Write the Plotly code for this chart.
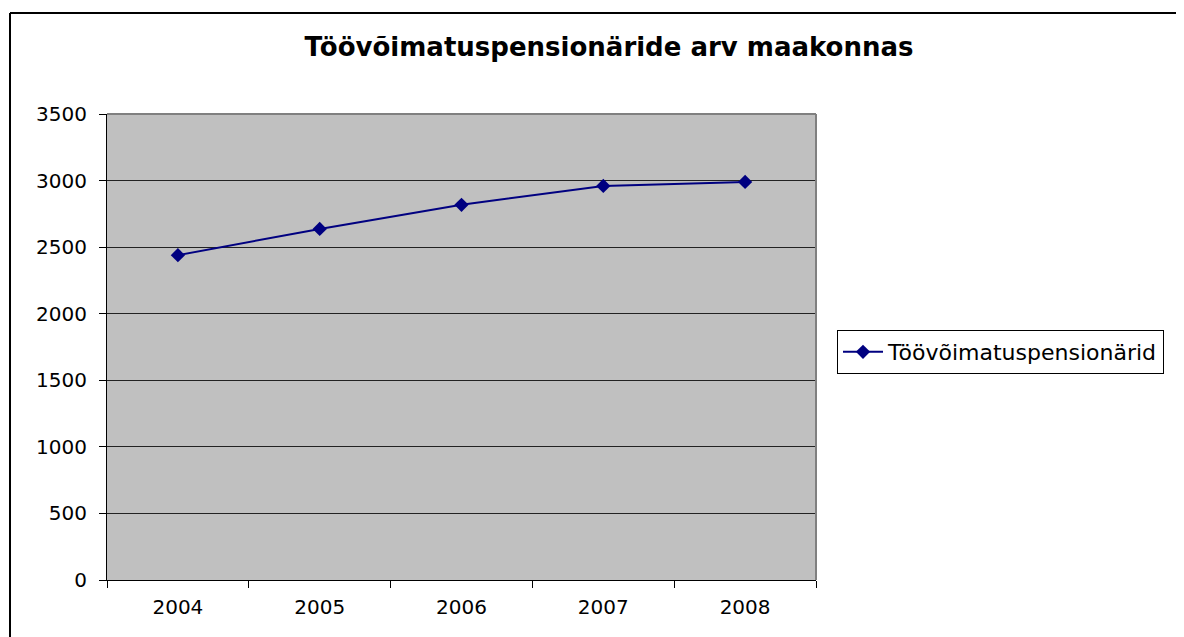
import plotly.graph_objects as go

years = ["2004", "2005", "2006", "2007", "2008"]
values = [2440, 2637, 2818, 2960, 2990]
series_name = "Töövõimatuspensionärid"
title_text = "Töövõimatuspensionäride arv maakonnas"

# page body has an 8px margin; work in screen pixels and shift
OFF = 8
W, H = 1184 - OFF, 637 - OFF
L, R, T, B = 107 - OFF, 816 - OFF, 114 - OFF, 580 - OFF

def px_x(p):
    return (p - OFF - L) / (R - L)

def px_y(p):
    return (B - (p - OFF)) / (B - T)

FONT = "DejaVu Sans, Liberation Sans, Arial, sans-serif"

fig = go.Figure()
fig.add_trace(go.Scatter(
    x=years, y=values, name=series_name, mode="lines+markers",
    line=dict(color="#000080", width=2),
    marker=dict(symbol="diamond", size=11, color="#000080"),
))

fig.update_layout(
    width=W, height=H,
    margin=dict(l=L, r=W - R, t=T, b=H - B),
    paper_bgcolor="white",
    plot_bgcolor="#C0C0C0",
    font=dict(family=FONT, color="black", size=20),
    title=dict(text="<b>" + title_text + "</b>", x=px_x(609), xref="paper",
               xanchor="center", y=1 - (47 - OFF) / H, yanchor="middle",
               font=dict(size=26, family=FONT)),
    showlegend=True,
    legend=dict(x=px_x(837), xanchor="left", y=px_y(330), yanchor="top",
                bordercolor="black", borderwidth=1, bgcolor="white",
                font=dict(size=22, family=FONT), itemwidth=40),
    xaxis=dict(type="category", range=[-0.5, 4.5], tickson="boundaries",
               ticks="outside", ticklen=7, tickcolor="black",
               showline=True, linecolor="black", linewidth=1,
               showgrid=False, zeroline=False, mirror=False,
               tickfont=dict(size=20), ticklabelstandoff=9),
    yaxis=dict(range=[0, 3500], dtick=500, ticks="outside", ticklen=7,
               tickcolor="black", showline=True, linecolor="black", linewidth=1,
               showgrid=True, gridcolor="#222222", gridwidth=1, zeroline=False,
               tickfont=dict(size=20), ticklabelstandoff=8),
    shapes=[
        dict(type="line", xref="paper", yref="paper", x0=0, x1=1, y0=1, y1=1,
             line=dict(color="#808080", width=2)),
        dict(type="line", xref="paper", yref="paper", x0=1, x1=1, y0=0, y1=1,
             line=dict(color="#808080", width=2)),
        dict(type="line", xref="paper", yref="paper", x0=px_x(10), x1=px_x(1200),
             y0=px_y(13), y1=px_y(13), line=dict(color="black", width=2)),
        dict(type="line", xref="paper", yref="paper", x0=px_x(10), x1=px_x(10),
             y0=px_y(13), y1=px_y(660), line=dict(color="black", width=2)),
    ],
)

fig.write_html("out.html")
